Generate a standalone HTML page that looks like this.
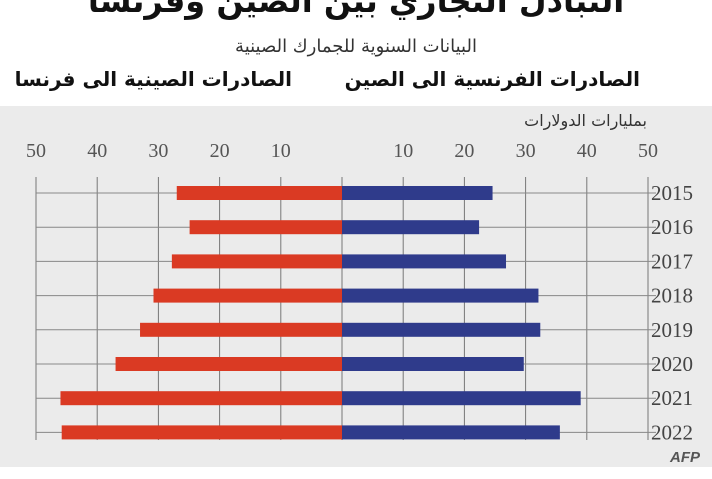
<!DOCTYPE html>
<html><head><meta charset="utf-8"><style>
body{margin:0;width:712px;height:474px;overflow:hidden;background:#fff;font-family:"Liberation Serif","Noto Sans CJK SC",serif}
</style></head><body>
<svg width="712" height="474" xmlns="http://www.w3.org/2000/svg">
<text x="356" y="12" text-anchor="middle" font-size="32" font-weight="bold" font-family="DejaVu Sans,sans-serif" fill="#111">التبادل التجاري بين الصين وفرنسا</text>
<text x="356" y="52" text-anchor="middle" font-size="18" font-family="DejaVu Sans,sans-serif" fill="#333">البيانات السنوية للجمارك الصينية</text>
<text x="640" y="86" text-anchor="end" font-size="20" font-weight="bold" font-family="DejaVu Sans,sans-serif" fill="#111">الصادرات الفرنسية الى الصين</text>
<text x="292" y="86" text-anchor="end" font-size="20" font-weight="bold" font-family="DejaVu Sans,sans-serif" fill="#111">الصادرات الصينية الى فرنسا</text>
<rect x="0" y="106" width="712" height="361" fill="#ebebeb"/>
<text x="647" y="126" text-anchor="end" font-size="16" font-family="DejaVu Sans,sans-serif" fill="#333">بمليارات الدولارات</text>
<g id="g"></g>
<text x="700" y="462" text-anchor="end" font-size="15" font-weight="bold" font-style="italic" font-family="Liberation Sans,sans-serif" fill="#555">AFP</text>
</svg>
<script>
const years=["2015","2016","2017","2018","2019","2020","2021","2022"];
const franceToChina=[24.6,22.4,26.8,32.1,32.4,29.7,39.0,35.6];
const chinaToFrance=[27.0,24.9,27.8,30.8,33.0,37.0,46.0,45.8];
const ticks=[10,20,30,40,50];
const ns="http://www.w3.org/2000/svg",g=document.getElementById('g');
const cx=342,k=6.12,y0=193,dy=34.2,yTop=177,yBot=440;
const xr=v=>cx+v*k, xl=v=>cx-v*k, yr=i=>y0+i*dy;
function el(t,a){const e=document.createElementNS(ns,t);for(const n in a)e.setAttribute(n,a[n]);g.appendChild(e);return e;}
ticks.forEach(t=>{
 let a=el('line',{x1:xl(t),x2:xl(t),y1:yTop,y2:yBot,stroke:'#777','stroke-width':1});
 
 
 let b=el('line',{x1:xr(t),x2:xr(t),y1:yTop,y2:yBot,stroke:'#777','stroke-width':1});
 
 
 let l=el('text',{x:xl(t),y:157,'text-anchor':'middle','font-size':20,fill:'#555'});l.textContent=t;
 
 
 let r=el('text',{x:xr(t),y:157,'text-anchor':'middle','font-size':20,fill:'#555'});r.textContent=t;
 
 
});
let c=el('line',{x1:cx,x2:cx,y1:yTop,y2:yBot,stroke:'#777','stroke-width':1});


years.forEach((y,i)=>{
 let h=el('line',{x1:xl(50),x2:xr(50)+8,y1:yr(i),y2:yr(i),stroke:'#888','stroke-width':1});
 
 
 let rb=el('rect',{x:xl(chinaToFrance[i]),y:yr(i)-7,width:chinaToFrance[i]*k,height:14,fill:'#da3a23'});
 
 
 let bb=el('rect',{x:cx,y:yr(i)-7,width:franceToChina[i]*k,height:14,fill:'#2f3b8b'});
 
 
 let t=el('text',{x:651,y:yr(i)+7,'font-size':21,fill:'#444'});t.textContent=y;
 
 
});
</script>
</body></html>
